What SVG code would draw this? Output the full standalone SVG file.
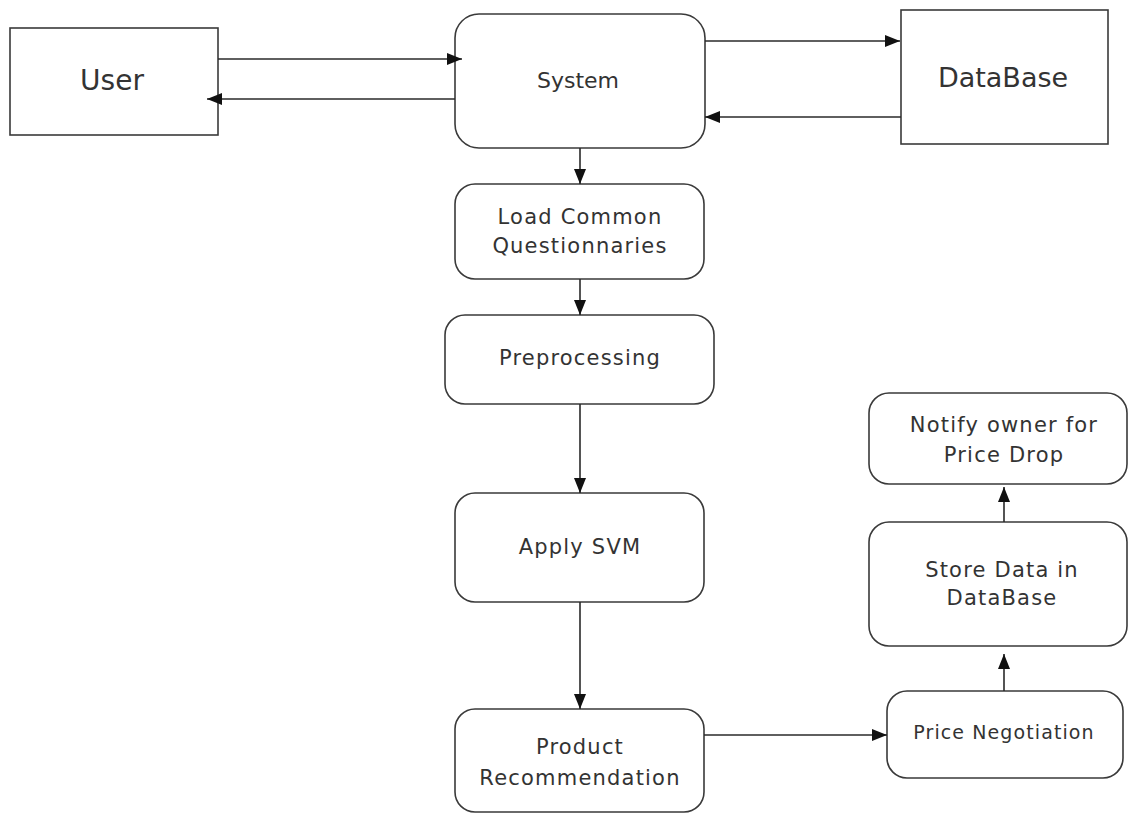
<svg xmlns="http://www.w3.org/2000/svg" width="1129" height="813" viewBox="0 0 1129 813">
  <style>
    .box { fill: #ffffff; stroke: #3a3a3a; stroke-width: 1.6; }
    .lbl { font-family: "DejaVu Sans", Verdana, sans-serif; fill: #333333; text-anchor: middle; }
    .step { font-size: 21px; letter-spacing: 1.2px; }
    .edge { fill: none; stroke: #2a2a2a; stroke-width: 1.6; marker-end: url(#head); }
  </style>
  <defs>
    <marker id="head" markerUnits="userSpaceOnUse" markerWidth="16" markerHeight="12" refX="15" refY="6" orient="auto">
      <path d="M0,0 L15,6 L0,12 z" fill="#111111"/>
    </marker>
  </defs>
  <rect width="1129" height="813" fill="#ffffff"/>

  <g id="user">
    <rect class="box" x="10" y="28" width="208" height="107"/>
    <text class="lbl" x="112" y="90" font-size="28">User</text>
  </g>

  <g id="system">
    <rect class="box" x="455" y="14" width="250" height="134" rx="24" ry="24"/>
    <text class="lbl" x="578" y="88" font-size="22">System</text>
  </g>

  <g id="database">
    <rect class="box" x="901" y="10" width="207" height="134"/>
    <text class="lbl" x="1003" y="87" font-size="27">DataBase</text>
  </g>

  <g id="load-questionnaires">
    <rect class="box" x="455" y="184" width="249" height="95" rx="20" ry="20"/>
    <text class="lbl step" x="580" y="224">Load Common</text>
    <text class="lbl step" x="580" y="253">Questionnaries</text>
  </g>

  <g id="preprocessing">
    <rect class="box" x="445" y="315" width="269" height="89" rx="20" ry="20"/>
    <text class="lbl step" x="580" y="365">Preprocessing</text>
  </g>

  <g id="apply-svm">
    <rect class="box" x="455" y="493" width="249" height="109" rx="20" ry="20"/>
    <text class="lbl step" x="580" y="554">Apply SVM</text>
  </g>

  <g id="product-recommendation">
    <rect class="box" x="455" y="709" width="249" height="103" rx="20" ry="20"/>
    <text class="lbl step" x="580" y="754">Product</text>
    <text class="lbl step" x="580" y="785">Recommendation</text>
  </g>

  <g id="price-negotiation">
    <rect class="box" x="887" y="691" width="236" height="87" rx="20" ry="20"/>
    <text class="lbl" x="1004" y="739" font-size="19" letter-spacing="1.1">Price Negotiation</text>
  </g>

  <g id="store-data">
    <rect class="box" x="869" y="522" width="258" height="124" rx="20" ry="20"/>
    <text class="lbl step" x="1002" y="577">Store Data in</text>
    <text class="lbl step" x="1002" y="605">DataBase</text>
  </g>

  <g id="notify-owner">
    <rect class="box" x="869" y="393" width="258" height="91" rx="20" ry="20"/>
    <text class="lbl step" x="1004" y="432">Notify owner for</text>
    <text class="lbl step" x="1004" y="462">Price Drop</text>
  </g>

  <g id="connectors">
    <line class="edge" x1="218" y1="59" x2="462" y2="59"/>
    <line class="edge" x1="455" y1="99" x2="207" y2="99"/>
    <line class="edge" x1="705" y1="41" x2="900" y2="41"/>
    <line class="edge" x1="901" y1="117" x2="705" y2="117"/>
    <line class="edge" x1="580" y1="148" x2="580" y2="184"/>
    <line class="edge" x1="580" y1="279" x2="580" y2="315"/>
    <line class="edge" x1="580" y1="404" x2="580" y2="493"/>
    <line class="edge" x1="580" y1="602" x2="580" y2="709"/>
    <line class="edge" x1="704" y1="735" x2="887" y2="735"/>
    <line class="edge" x1="1004" y1="691" x2="1004" y2="654"/>
    <line class="edge" x1="1004" y1="522" x2="1004" y2="487"/>
  </g>
</svg>
